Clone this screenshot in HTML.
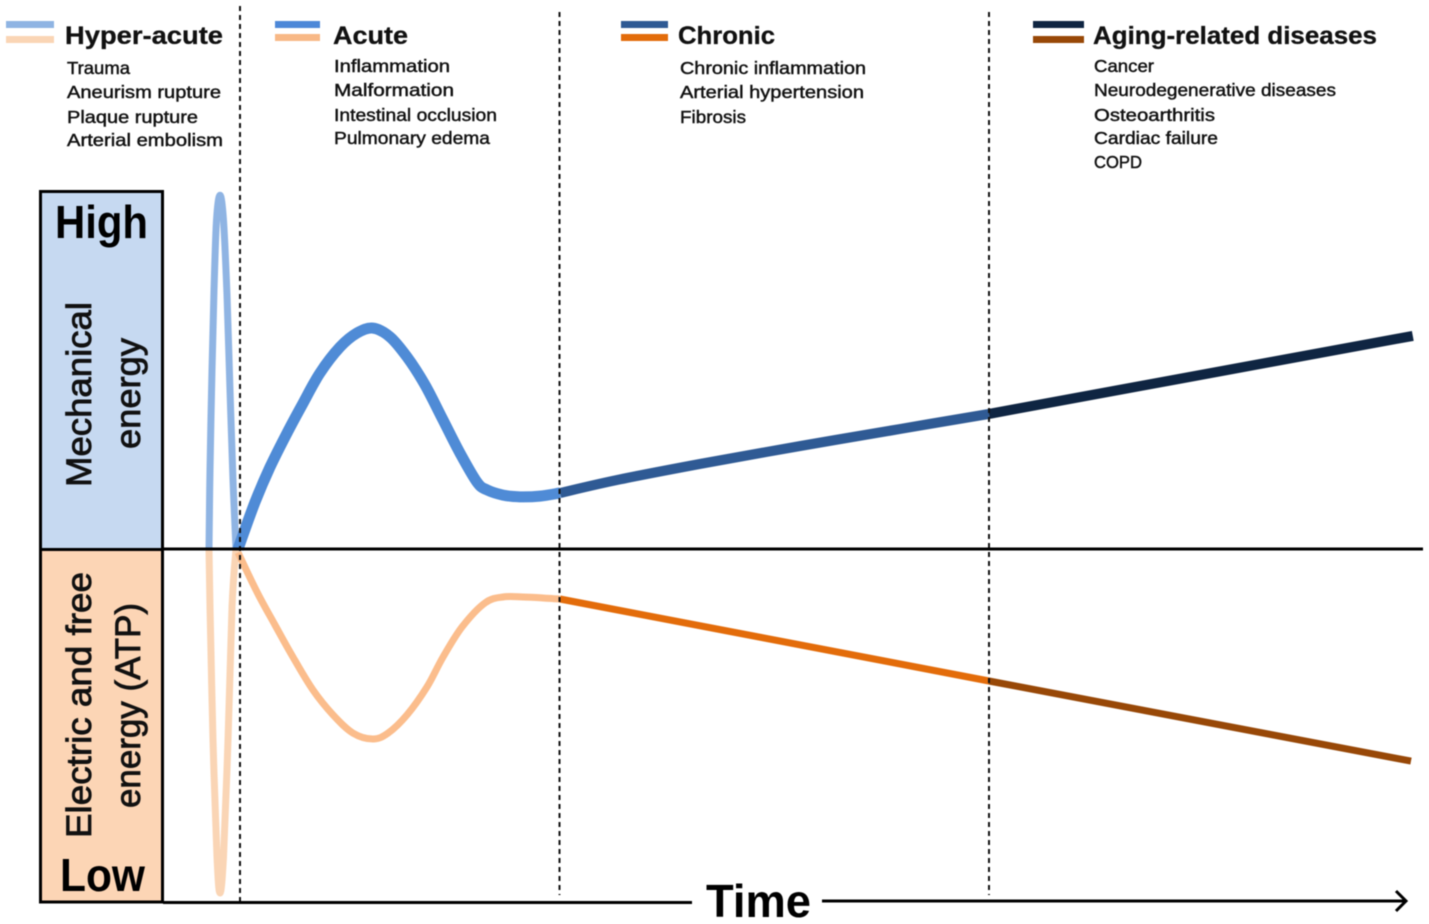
<!DOCTYPE html>
<html lang="en">
<head>
<meta charset="utf-8">
<title>Energy over time in disease stages</title>
<style>
html,body{margin:0;padding:0;background:#fff;width:1429px;height:924px;overflow:hidden}
svg{display:block;filter:blur(0.45px)}
text{font-family:"Liberation Sans",Arial,sans-serif;fill:#111}
.head{font-size:25px;font-weight:bold;stroke:#111;stroke-width:.3px}
.item{font-size:17.5px;stroke:#111;stroke-width:.45px}
.rot{font-size:35px;stroke:#111;stroke-width:.8px}
.big{font-size:46px;font-weight:bold;fill:#000}
</style>
</head>
<body>
<svg id="chart" width="1429" height="924" viewBox="0 0 1429 924" xmlns="http://www.w3.org/2000/svg">
  <rect x="40.5" y="191.5" width="122" height="358" fill="#c6d9f1" stroke="#000" stroke-width="3"/>
  <rect x="40.5" y="549.5" width="122" height="352.5" fill="#fcd5b5" stroke="#000" stroke-width="3"/>

  <text class="big" x="55" y="238" textLength="93" lengthAdjust="spacingAndGlyphs">High</text>
  <text class="big" x="60" y="891" textLength="85" lengthAdjust="spacingAndGlyphs">Low</text>
  <text class="rot" transform="translate(91 487) rotate(-90)" textLength="185" lengthAdjust="spacingAndGlyphs">Mechanical</text>
  <text class="rot" transform="translate(140 449) rotate(-90)" textLength="111" lengthAdjust="spacingAndGlyphs">energy</text>
  <text class="rot" transform="translate(91 838) rotate(-90)" textLength="266" lengthAdjust="spacingAndGlyphs">Electric and free</text>
  <text class="rot" transform="translate(140 808) rotate(-90)" textLength="205" lengthAdjust="spacingAndGlyphs">energy (ATP)</text>

  <g id="series"></g>

  <line x1="240" y1="6" x2="240" y2="901" stroke="#111" stroke-width="2" stroke-dasharray="5 4"/>
  <line x1="559.5" y1="12" x2="559.5" y2="895" stroke="#111" stroke-width="2" stroke-dasharray="5 4"/>
  <line x1="989" y1="12" x2="989" y2="895" stroke="#111" stroke-width="2" stroke-dasharray="5 4"/>

  <line x1="163" y1="549" x2="1423" y2="549" stroke="#000" stroke-width="3"/>
  <line x1="163" y1="902.5" x2="692" y2="902.5" stroke="#000" stroke-width="3"/>
  <line x1="822" y1="901" x2="1405" y2="901" stroke="#000" stroke-width="3"/>
  <path d="M1396 891 L1406 901 L1396 911" fill="none" stroke="#000" stroke-width="3"/>
  <text class="big" x="706" y="917" textLength="105" lengthAdjust="spacingAndGlyphs">Time</text>

  <g>
    <rect x="6" y="21" width="48" height="7" fill="#8fb4e3"/>
    <rect x="6" y="36" width="48" height="7" fill="#fad5b5"/>
    <text class="head" x="65" y="44" textLength="158" lengthAdjust="spacingAndGlyphs">Hyper-acute</text>
    <text class="item" x="67" y="74" textLength="63" lengthAdjust="spacingAndGlyphs">Trauma</text>
    <text class="item" x="67" y="98" textLength="154" lengthAdjust="spacingAndGlyphs">Aneurism rupture</text>
    <text class="item" x="67" y="123" textLength="131" lengthAdjust="spacingAndGlyphs">Plaque rupture</text>
    <text class="item" x="67" y="146" textLength="156" lengthAdjust="spacingAndGlyphs">Arterial embolism</text>
  </g>

  <g>
    <rect x="275" y="21" width="45" height="7" fill="#4d88d8"/>
    <rect x="275" y="34" width="45" height="7" fill="#f8b886"/>
    <text class="head" x="333" y="44" textLength="75" lengthAdjust="spacingAndGlyphs">Acute</text>
    <text class="item" x="334" y="72" textLength="116" lengthAdjust="spacingAndGlyphs">Inflammation</text>
    <text class="item" x="334" y="96" textLength="120" lengthAdjust="spacingAndGlyphs">Malformation</text>
    <text class="item" x="334" y="121" textLength="163" lengthAdjust="spacingAndGlyphs">Intestinal occlusion</text>
    <text class="item" x="334" y="144" textLength="156" lengthAdjust="spacingAndGlyphs">Pulmonary edema</text>
  </g>

  <g>
    <rect x="621" y="21" width="47" height="7" fill="#2f5a94"/>
    <rect x="621" y="34" width="47" height="7" fill="#e36c0a"/>
    <text class="head" x="678" y="44" textLength="97" lengthAdjust="spacingAndGlyphs">Chronic</text>
    <text class="item" x="680" y="74" textLength="186" lengthAdjust="spacingAndGlyphs">Chronic inflammation</text>
    <text class="item" x="680" y="98" textLength="184" lengthAdjust="spacingAndGlyphs">Arterial hypertension</text>
    <text class="item" x="680" y="123" textLength="66" lengthAdjust="spacingAndGlyphs">Fibrosis</text>
  </g>

  <g>
    <rect x="1033" y="21" width="51" height="7" fill="#0f2542"/>
    <rect x="1033" y="36" width="51" height="7" fill="#984807"/>
    <text class="head" x="1093" y="44" textLength="284" lengthAdjust="spacingAndGlyphs">Aging-related diseases</text>
    <text class="item" x="1094" y="72" textLength="60" lengthAdjust="spacingAndGlyphs">Cancer</text>
    <text class="item" x="1094" y="96" textLength="242" lengthAdjust="spacingAndGlyphs">Neurodegenerative diseases</text>
    <text class="item" x="1094" y="121" textLength="121" lengthAdjust="spacingAndGlyphs">Osteoarthritis</text>
    <text class="item" x="1094" y="144" textLength="124" lengthAdjust="spacingAndGlyphs">Cardiac failure</text>
    <text class="item" x="1094" y="168" textLength="48" lengthAdjust="spacingAndGlyphs">COPD</text>
  </g>
</svg>
<script>
// Time is in arbitrary units; energy is signed (positive = mechanical, negative = electric/ATP).
const hyperMechT = [0.08, 0.17, 0.33, 0.5, 0.71, 1, 1.29, 1.58, 1.83, 2.08, 2.33];
const hyperMechE = [0, 22.6, 51.1, 74, 93.9, 101.1, 93.9, 72.6, 45.4, 19.7, 0];
const acuteMechT = [2.5, 3.92, 5.17, 6.58, 7.83, 9.33, 11, 12.42, 13.75, 15.17, 16.58, 18.08, 19.58, 21, 22.42, 23.25, 24.58, 26, 27.67, 29.33];
const acuteMechE = [0, 13.4, 23.4, 33.1, 41.1, 50.3, 57.7, 61.7, 63.1, 60.6, 54.9, 46.9, 36.9, 27.4, 19.1, 16.9, 15.4, 14.9, 15.1, 16];
const chronicMechT = [29.33, 34.33, 41, 49.33, 57.67, 65.08];
const chronicMechE = [16, 19.9, 24.3, 29.4, 34.3, 38.6];
const agingMechT = [65.08, 100.4];
const agingMechE = [38.6, 60.9];
const hyperElecT = [0.08, 0.17, 0.42, 0.75, 1, 1.29, 1.67, 2, 2.33];
const hyperElecE = [0, -16.6, -54.6, -88, -98.3, -88, -54.6, -16.6, 0];
const acuteElecT = [2.5, 4.08, 5.58, 7.08, 8.75, 10.42, 12.08, 13.75, 15, 16.58, 18.25, 19.58, 21.17, 23.08, 24.58, 26.25, 27.92, 29.33];
const acuteElecE = [-1, -12.3, -21.7, -30.9, -40.3, -47.4, -52.6, -54.3, -52.6, -47.4, -39.4, -30.9, -22.3, -15.4, -13.7, -13.7, -14, -14.3];
const chronicElecT = [29.33, 65.08];
const chronicElecE = [-14.3, -37.7];
const agingElecT = [65.08, 100.25];
const agingElecE = [-37.7, -60.6];

function xAxis(t) { return 208 + 12 * t; }
function yAxis(e) { return 549 - 3.5 * e; }

function curvePath(ts, es) {
  const p = ts.map(function (t, i) { return [xAxis(t), yAxis(es[i])]; });
  let d = 'M' + p[0][0].toFixed(1) + ' ' + p[0][1].toFixed(1);
  if (p.length === 2) return d + ' L' + p[1][0].toFixed(1) + ' ' + p[1][1].toFixed(1);
  for (let i = 0; i < p.length - 1; i++) {
    const a = p[Math.max(i - 1, 0)], b = p[i], c = p[i + 1], e = p[Math.min(i + 2, p.length - 1)];
    const c1x = b[0] + (c[0] - a[0]) / 6, c1y = b[1] + (c[1] - a[1]) / 6;
    const c2x = c[0] - (e[0] - b[0]) / 6, c2y = c[1] - (e[1] - b[1]) / 6;
    d += ' C' + c1x.toFixed(1) + ' ' + c1y.toFixed(1) + ' ' + c2x.toFixed(1) + ' ' + c2y.toFixed(1) + ' ' + c[0].toFixed(1) + ' ' + c[1].toFixed(1);
  }
  return d;
}

const seriesGroup = document.getElementById('series');
function addCurve(name, ts, es, color, width) {
  const el = document.createElementNS('http://www.w3.org/2000/svg', 'path');
  
  
  el.setAttribute('d', curvePath(ts, es));
  el.setAttribute('fill', 'none');
  el.setAttribute('stroke', color);
  el.setAttribute('stroke-width', width);
  el.setAttribute('stroke-linejoin', 'round');
  seriesGroup.appendChild(el);
}

addCurve('hyper-acute-electric-line', hyperElecT, hyperElecE, '#fad5b5', 7);
addCurve('hyper-acute-mechanical-line', hyperMechT, hyperMechE, '#8fb4e3', 7);
addCurve('acute-electric-line', acuteElecT, acuteElecE, '#fbbd8c', 7);
addCurve('acute-mechanical-line', acuteMechT, acuteMechE, '#4f8bd6', 11);
addCurve('chronic-electric-line', chronicElecT, chronicElecE, '#e36c0a', 7);
addCurve('chronic-mechanical-line', chronicMechT, chronicMechE, '#2f5a94', 10);
addCurve('aging-electric-line', agingElecT, agingElecE, '#984807', 7);
addCurve('aging-mechanical-line', agingMechT, agingMechE, '#0f2542', 10);
</script>
</body>
</html>
